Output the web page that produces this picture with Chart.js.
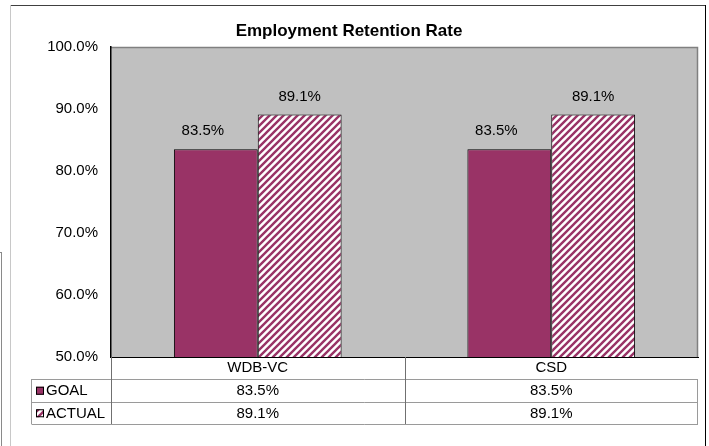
<!DOCTYPE html>
<html>
<head>
<meta charset="utf-8">
<script src="https://cdn.jsdelivr.net/npm/chart.js@4"></script>
<style>
  html, body { margin: 0; padding: 0; background: #fff; }
  canvas { display: block; }
</style>
</head>
<body>
<canvas id="retention" width="709" height="446"></canvas>
<script>
const categories = ['WDB-VC', 'CSD'];
const goalData = [83.5, 83.5];
const actualData = [89.1, 89.1];
const seriesNames = ['GOAL', 'ACTUAL'];
const yMin = 50;
const yMax = 100;
const yStep = 10;

const FONT = 'Liberation Sans, Arial, sans-serif';
const MAROON = '#993366';

// diagonal stripe fill for the ACTUAL bars
function stripePattern() {
    const size = 7;
    const c = document.createElement('canvas');
    c.width = c.height = size;
    const g = c.getContext('2d');
    g.fillStyle = '#fff';
    g.fillRect(0, 0, size, size);
    g.strokeStyle = MAROON;
    g.lineWidth = 2.4;
    g.beginPath();
    g.moveTo(-2, size + 2); g.lineTo(size + 2, -2);
    g.moveTo(-2, 2); g.lineTo(2, -2);
    g.moveTo(size - 2, size + 2); g.lineTo(size + 2, size - 2);
    g.stroke();
    return g.createPattern(c, 'repeat');
}
const stripes = stripePattern();
const pct = v => v.toFixed(1) + '%';

// gray plot area with a darker top/right edge
const plotBackground = {
    id: 'plotBackground',
    beforeDraw(chart) {
        const { ctx, chartArea: a } = chart;
        ctx.save();
        ctx.fillStyle = '#C0C0C0';
        ctx.fillRect(a.left, a.top, a.right - a.left, a.bottom - a.top);
        ctx.strokeStyle = '#808080';
        ctx.lineWidth = 1.5;
        ctx.beginPath();
        ctx.moveTo(a.left, a.top + 0.5);
        ctx.lineTo(a.right - 0.5, a.top + 0.5);
        ctx.lineTo(a.right - 0.5, a.bottom);
        ctx.stroke();
        ctx.restore();
    }
};

// value labels above each bar
const barLabels = {
    id: 'barLabels',
    afterDatasetsDraw(chart) {
        const ctx = chart.ctx;
        ctx.save();
        ctx.font = '15px ' + FONT;
        ctx.fillStyle = '#000';
        ctx.textAlign = 'center';
        ctx.textBaseline = 'middle';
        chart.data.datasets.forEach((ds, i) => {
            const meta = chart.getDatasetMeta(i);
            meta.data.forEach((bar, j) => {
                ctx.fillText(pct(ds.data[j]), bar.x + (ds.labelShift || 0), bar.y - 18);
            });
        });
        ctx.restore();
    }
};

// data table under the axis
const dataTable = {
    id: 'dataTable',
    afterDraw(chart) {
        const { ctx, chartArea: a } = chart;
        const x = chart.scales.x;
        const tableLeft = 31.5;
        const rowTop = a.bottom + 22;
        const rowH = 22.5;
        const mid = (x.getPixelForValue(0) + x.getPixelForValue(1)) / 2;
        ctx.save();
        ctx.lineWidth = 1;
        // horizontal rules
        ctx.strokeStyle = '#9a9a9a';
        ctx.beginPath();
        for (let r = 0; r <= 2; r++) {
            const y = Math.round(rowTop + r * rowH) + 0.5;
            ctx.moveTo(tableLeft, y);
            ctx.lineTo(a.right, y);
        }
        ctx.moveTo(tableLeft, rowTop);
        ctx.lineTo(tableLeft, rowTop + 2 * rowH);
        ctx.moveTo(a.right - 0.5, rowTop);
        ctx.lineTo(a.right - 0.5, rowTop + 2 * rowH);
        ctx.stroke();
        // column dividers
        ctx.strokeStyle = '#707070';
        ctx.beginPath();
        ctx.moveTo(a.left + 0.5, a.bottom);
        ctx.lineTo(a.left + 0.5, rowTop + 2 * rowH);
        ctx.moveTo(Math.round(mid) + 0.5, a.bottom);
        ctx.lineTo(Math.round(mid) + 0.5, rowTop + 2 * rowH);
        ctx.stroke();

        ctx.font = '15px ' + FONT;
        ctx.fillStyle = '#000';
        ctx.textBaseline = 'middle';
        chart.data.datasets.forEach((ds, r) => {
            const cy = rowTop + r * rowH + rowH / 2 + 1;
            // legend key
            ctx.fillStyle = ds.backgroundColor;
            ctx.fillRect(36, cy - 4.5, 8, 8);
            ctx.strokeStyle = '#000';
            ctx.strokeRect(36.5, cy - 4, 7, 7);
            ctx.fillStyle = '#000';
            ctx.textAlign = 'left';
            ctx.fillText(ds.label, 46, cy);
            ctx.textAlign = 'center';
            ds.data.forEach((v, j) => {
                ctx.fillText(pct(v), x.getPixelForValue(j), cy);
            });
        });
        ctx.restore();
    }
};

// outer chart frame
const frame = {
    id: 'frame',
    afterDraw(chart) {
        const ctx = chart.ctx;
        ctx.save();
        ctx.lineWidth = 1;
        ctx.strokeStyle = '#404040';
        ctx.beginPath();
        ctx.moveTo(10, 5.5); ctx.lineTo(706, 5.5);
        ctx.stroke();
        ctx.strokeStyle = '#c8c8c8';
        ctx.beginPath();
        ctx.moveTo(10.5, 5); ctx.lineTo(10.5, 446);
        ctx.stroke();
        ctx.strokeStyle = '#000';
        ctx.beginPath();
        ctx.moveTo(705.5, 5); ctx.lineTo(705.5, 446);
        ctx.stroke();
        ctx.strokeStyle = '#8a8a8a';
        ctx.beginPath();
        ctx.moveTo(0, 252.5); ctx.lineTo(2, 252.5);
        ctx.moveTo(1.5, 252); ctx.lineTo(1.5, 446);
        ctx.stroke();
        ctx.restore();
    }
};

new Chart(document.getElementById('retention'), {
    type: 'bar',
    data: {
        labels: categories,
        datasets: [{
            label: seriesNames[0],
            data: goalData,
            backgroundColor: MAROON,
            borderColor: '#000',
            borderWidth: 1,
            labelShift: -13
        }, {
            label: seriesNames[1],
            data: actualData,
            backgroundColor: stripes,
            borderColor: '#000',
            borderWidth: 1
        }]
    },
    options: {
        responsive: false,
        animation: false,
        devicePixelRatio: 1,
        layout: { padding: { left: 0, right: 11, top: 0, bottom: 0 } },
        datasets: {
            bar: { categoryPercentage: 0.5714, barPercentage: 1.0 }
        },
        plugins: {
            legend: { display: false },
            tooltip: { enabled: false },
            title: {
                display: true,
                text: 'Employment Retention Rate',
                color: '#000',
                font: { family: FONT, size: 17, weight: 'bold' },
                padding: { top: 21, bottom: 5.6 }
            }
        },
        scales: {
            x: {
                grid: { display: false, drawTicks: false },
                border: { display: true, color: '#000', width: 1 },
                ticks: { color: '#000', font: { family: FONT, size: 15 }, padding: 2 },
                afterFit(scale) { scale.height = 89; }
            },
            y: {
                min: yMin,
                max: yMax,
                grid: { display: false, drawTicks: false },
                border: { display: true, color: '#000', width: 1.5 },
                ticks: {
                    stepSize: yStep,
                    color: '#000',
                    padding: 13,
                    font: { family: FONT, size: 15 },
                    callback: v => pct(v)
                },
                afterFit(scale) { scale.width = 111; }
            }
        }
    },
    plugins: [plotBackground, barLabels, dataTable, frame]
});
</script>
</body>
</html>
